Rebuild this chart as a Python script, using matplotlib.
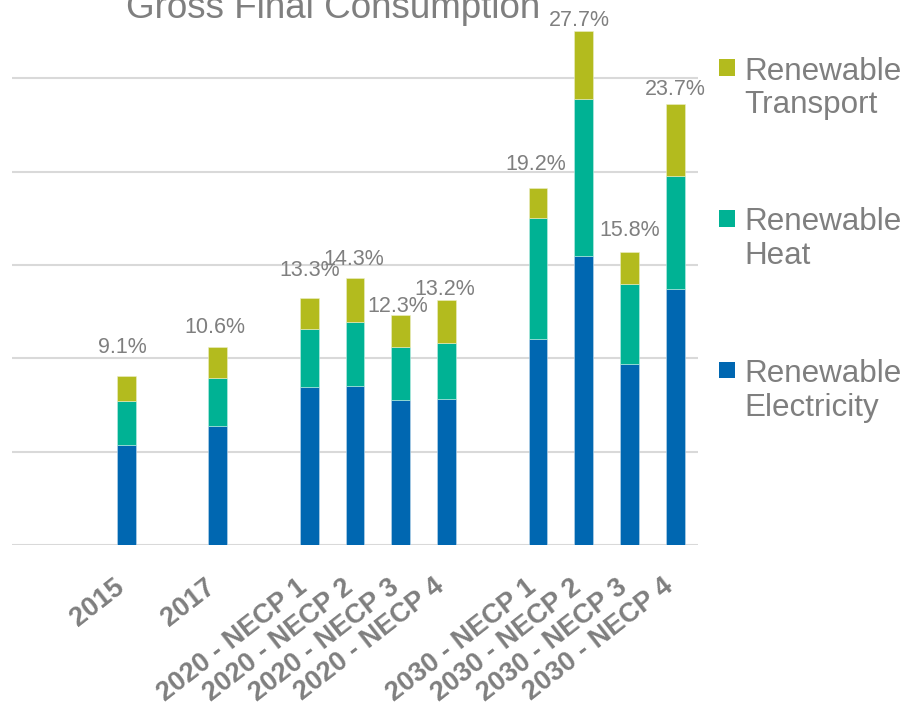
import matplotlib
matplotlib.use("Agg")
import matplotlib.pyplot as plt
import matplotlib.transforms as mtransforms
from matplotlib.patches import Rectangle
import numpy as np

plt.rcParams['font.family'] = ['Liberation Sans', 'DejaVu Sans']

# blank categories leave the gaps between groups, like the spreadsheet did
categories = ['', '', '2015', '', '2017', '',
              '2020 - NECP 1', '2020 - NECP 2', '2020 - NECP 3', '2020 - NECP 4', '',
              '2030 - NECP 1', '2030 - NECP 2', '2030 - NECP 3', '2030 - NECP 4']
electricity = [None, None, 5.35, None, 6.35, None, 8.45, 8.5, 7.75, 7.8, None, 11.05, 15.5, 9.7, 13.7]
heat = [None, None, 2.35, None, 2.6, None, 3.1, 3.45, 2.85, 3.0, None, 6.45, 8.4, 4.3, 6.05]
transport = [None, None, 1.35, None, 1.65, None, 1.7, 2.35, 1.7, 2.35, None, 1.6, 3.65, 1.7, 3.85]
totals = [None, None, '9.1%', None, '10.6%', None, '13.3%', '14.3%', '12.3%', '13.2%', None,
          '19.2%', '27.7%', '15.8%', '23.7%']

series = ['Renewable\nElectricity', 'Renewable\nHeat', 'Renewable\nTransport']
colors = ['#0067B1', '#00B294', '#B3BB1E']
grey = '#7F7F7F'

# label nudges (px) so the totals sit where the original put them
label_dx = [0, 0, -4, 0, -3, 0, 0, -1, -3, -2, 0, -2, -4, 0, 0]
label_dy = [0, 0, 23, 0, 14, 0, 22, 13, 3, 5, 0, 18, 5, 16, 9]

fig = plt.figure(figsize=(9.08, 7.2), dpi=100)
ax = fig.add_axes([12 / 908, 175 / 720, 686 / 908, 560 / 720])

x = np.arange(len(categories))
e = np.array([np.nan if v is None else v for v in electricity])
h = np.array([np.nan if v is None else v for v in heat])
t = np.array([np.nan if v is None else v for v in transport])

bw = 0.41
ax.bar(x, e, bw, color=colors[0], edgecolor='#BFD9EC', linewidth=0.4, zorder=3)
ax.bar(x, h, bw, bottom=e, color=colors[1], edgecolor='#BFEDE4', linewidth=0.4, zorder=3)
ax.bar(x, t, bw, bottom=e + h, color=colors[2], edgecolor='#ECEEC6', linewidth=0.4, zorder=3)

for i, lab in enumerate(totals):
    if lab is None:
        continue
    top = e[i] + h[i] + t[i]
    ax.annotate(lab, (x[i], top), xytext=(label_dx[i] * 0.72, label_dy[i] * 0.72),
                textcoords='offset points', ha='center', va='baseline',
                fontsize=15.5, color=grey, zorder=4, annotation_clip=False)

ax.set_xlim(-0.5, len(categories) - 0.5)
ax.set_ylim(0, 30)
ax.set_yticks([0, 5, 10, 15, 20, 25])
ax.yaxis.grid(True, color='#D9D9D9', linewidth=1.5, zorder=0)
ax.tick_params(axis='y', left=False, labelleft=False)
ax.tick_params(axis='x', length=0, pad=28)
for s in ax.spines.values():
    s.set_visible(False)

ax.set_xticks(x)
ax.set_xticklabels(categories, rotation=38, ha='right', va='center',
                   rotation_mode='anchor', fontsize=19.5, fontweight='bold', color=grey)
shift = mtransforms.ScaledTranslation(-5 / 100, 0, fig.dpi_scale_trans)
for lab in ax.get_xticklabels():
    lab.set_transform(lab.get_transform() + shift)

# title, cut off at the top edge like the original
fig.text(333 / 908, 1 - 18 / 720, 'Gross Final Consumption', ha='center', va='baseline',
         fontsize=26.5, color=grey)

# legend drawn by hand so the swatch lines up with the first line of text
legend_y = [370, 218.5, 67.5]
for name, col, yc in zip(series, colors, legend_y):
    fig.add_artist(Rectangle((719 / 908, 1 - (yc + 8) / 720), 16 / 908, 16 / 720,
                             transform=fig.transFigure, facecolor=col, edgecolor='none'))
    fig.text(744 / 908, 1 - (yc - 11) / 720, name, ha='left', va='top',
             fontsize=22.6, color=grey, linespacing=1.17)

fig.savefig('out.png', dpi=100)
